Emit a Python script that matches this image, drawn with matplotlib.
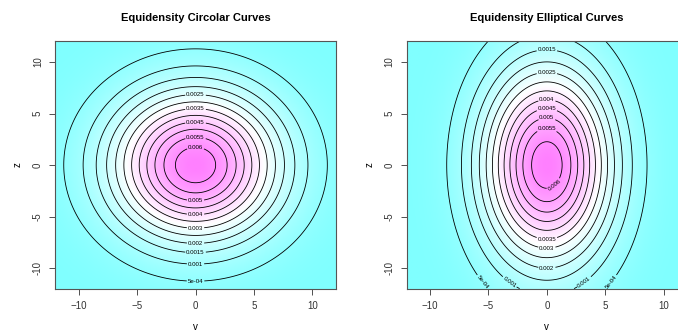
import numpy as np
import matplotlib
matplotlib.use('Agg')
import matplotlib.pyplot as plt
from matplotlib.colors import LinearSegmentedColormap

plt.rcParams['font.family'] = ['Liberation Sans', 'DejaVu Sans']

# grid of v and z
v = np.linspace(-12, 12, 241)
z = np.linspace(-12, 12, 241)

# standard deviations (v, z) of the two normal densities
sd_circ = (5.0, 5.0)
sd_ell = (3.8, 6.58)

levels = [0.0005, 0.001, 0.0015, 0.002, 0.0025, 0.003,
          0.0035, 0.004, 0.0045, 0.005, 0.0055, 0.006]
level_text = ['5e-04', '0.001', '0.0015', '0.002', '0.0025', '0.003',
              '0.0035', '0.004', '0.0045', '0.005', '0.0055', '0.006']

# where the contour labels sit (angle round the centre, degrees)
circ_label_angles = [270, 270, 270, 270, 90, 270, 90, 270, 90, 270, 90, 90]
ell_label_angles = [[230, 310], [244, 296], [90], [270], [90], [270],
                    [270], [90], [90], [90], [90], [300]]

titles = ['Equidensity Circolar Curves', 'Equidensity Elliptical Curves']
ticks = [-10, -5, 0, 5, 10]

cmap = LinearSegmentedColormap.from_list('cm', ['#80FFFF', '#FFFFFF', '#FF80FF'])


def density(sd):
    V, Z = np.meshgrid(v, z)
    return np.exp(-0.5 * ((V / sd[0])**2 + (Z / sd[1])**2)) / (2 * np.pi * sd[0] * sd[1])


def label_points(sd, angles):
    f0 = 1 / (2 * np.pi * sd[0] * sd[1])
    pts = []
    for lev, angs in zip(levels, angles):
        if not isinstance(angs, list):
            angs = [angs]
        r = np.sqrt(2 * np.log(f0 / lev))
        for a in angs:
            t = np.radians(a)
            pts.append((sd[0] * r * np.cos(t), sd[1] * r * np.sin(t)))
    return pts


fig = plt.figure(figsize=(6.78, 3.33), dpi=100)
ax1 = fig.add_axes([0.0816, 0.1333, 0.4136, 0.7423])
ax2 = fig.add_axes([0.5998, 0.1333, 0.4136, 0.7423])

for ax, sd, angles, title in [(ax1, sd_circ, circ_label_angles, titles[0]),
                              (ax2, sd_ell, ell_label_angles, titles[1])]:
    D = density(sd)
    ax.imshow(D, extent=[v[0], v[-1], z[0], z[-1]], origin='lower', aspect='auto',
              cmap=cmap, vmin=D.min(), vmax=D.max(), interpolation='bilinear')
    cs = ax.contour(v, z, D, levels=levels, colors='black', linewidths=0.6)
    ax.clabel(cs, levels, fmt=dict(zip(levels, level_text)), fontsize=4.4,
              inline=True, inline_spacing=1, manual=label_points(sd, angles))
    ax.set_xlim(-12, 12)
    ax.set_ylim(-12, 12)
    ax.set_xticks(ticks)
    ax.set_yticks(ticks)
    ax.set_yticklabels([str(t) for t in ticks], rotation=90, va='center')
    ax.tick_params(direction='out', length=4, width=0.6, colors='#333333',
                   labelsize=7, pad=5)
    for s in ax.spines.values():
        s.set_color('#555555')
        s.set_linewidth(0.8)
    ax.text(0.5, 1.094, title, transform=ax.transAxes, ha='center', va='center',
            fontsize=8, fontweight='bold')
    ax.set_xlabel('v', fontsize=7, va='center')
    ax.set_ylabel('z', fontsize=7, va='center')
    ax.xaxis.set_label_coords(0.5, -0.155)
    ax.yaxis.set_label_coords(-0.133, 0.5)

fig.savefig('out.png', dpi=100)
